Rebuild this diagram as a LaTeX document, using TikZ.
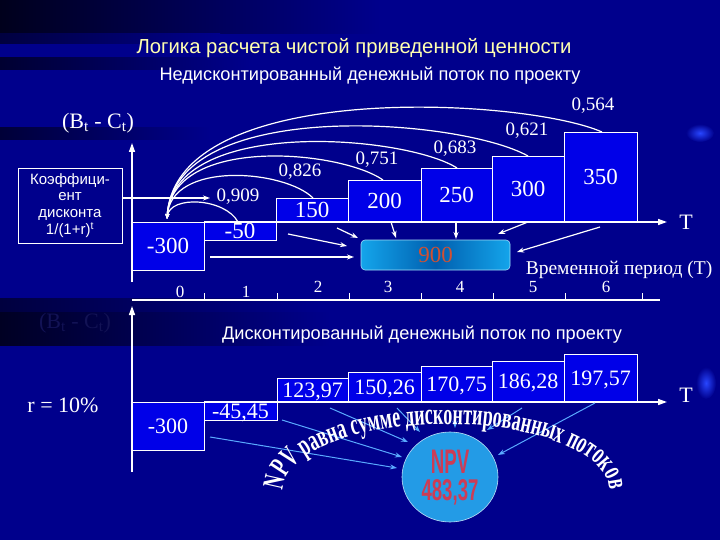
\documentclass[tikz,border=0pt]{standalone}
\usepackage{fontspec}
\usepackage{graphicx}
\setmainfont{Liberation Serif}
\setsansfont{Liberation Sans}
\newfontfamily\archserif{Liberation Serif}[FakeStretch=0.6]
\usetikzlibrary{arrows.meta,decorations.text,shapes.geometric}
\definecolor{bg}{RGB}{0,0,140}
\definecolor{barblue}{RGB}{0,0,232}
\definecolor{titleyellow}{RGB}{255,255,175}
\definecolor{cyanbox}{RGB}{20,165,235}
\definecolor{cyandark}{RGB}{0,95,175}
\definecolor{sumred}{RGB}{210,80,50}
\definecolor{npvblue}{RGB}{35,155,230}
\definecolor{npvred}{RGB}{205,60,85}
\definecolor{lightarrow}{RGB}{90,170,255}
\definecolor{faint}{RGB}{18,18,85}
\definecolor{blobblue}{RGB}{40,70,255}
\newcommand\archfont{\archserif\bfseries\fontsize{30}{30}\selectfont}
\tikzset{
  bar/.style={draw=white, line width=0.8pt, fill=barblue, inner sep=0pt, outer sep=0pt, text=white, text depth=0pt},
  upval/.style={font=\fontsize{23}{23}\selectfont},
  lowval/.style={font=\fontsize{22}{22}\selectfont},
  coef/.style={text=white, font=\fontsize{19}{19}\selectfont, inner sep=0pt},
  axislab/.style={text=white, font=\fontsize{17}{17}\selectfont, inner sep=0pt},
  axisline/.style={white, line width=1.5pt, -{Triangle[length=9pt,width=6pt]}},
  tick/.style={white, line width=0.8pt},
  arcline/.style={white, line width=1.2pt, {Stealth[length=5pt,width=4pt]}-},
  warrow/.style={white, line width=1.2pt, -{Stealth[length=7pt,width=5pt]}},
  carrow/.style={lightarrow, line width=1pt, -{Stealth[length=7pt,width=5pt]}},
  sanstext/.style={font=\sffamily\fontsize{18.2}{18.2}\selectfont, text=white, inner sep=0pt}
}
\begin{document}
\begin{tikzpicture}[x=1pt,y=-1pt]
\useasboundingbox (0,0) rectangle (720,540);
% background
\fill[bg] (0,0) rectangle (720,540);
\shade[left color=black!80!bg, right color=bg] (0,0) rectangle (380,34);
\shade[left color=black!55!bg, right color=bg] (0,34) rectangle (220,44);
\shade[left color=black!65!bg, right color=bg] (0,58) rectangle (250,70);
\shade[left color=black!60!bg, right color=bg] (0,128) rectangle (210,140);
\shade[left color=black!55!bg, right color=bg] (0,298) rectangle (320,312);
\shade[left color=black!75!bg, right color=bg] (0,312) rectangle (330,345);
\shade[inner color=blobblue, outer color=bg] (700,133) ellipse (14 and 9);
\shade[inner color=blobblue, outer color=bg] (706,383) ellipse (10 and 16);

% titles
\node[font=\sffamily\fontsize{20.3}{20.3}\selectfont, text=titleyellow, inner sep=0pt] (title) at (354,48) {Логика расчета чистой приведенной ценности};
\node[sanstext] (sub1) at (370,76) {Недисконтированный денежный поток по проекту};
\node[sanstext] (sub2) at (422,335) {Дисконтированный денежный поток по проекту};

% left labels
\node[text=white, font=\fontsize{22}{22}\selectfont, inner sep=0pt] (bc) at (98,123) {(B\textsubscript{t} - C\textsubscript{t})};
\node[text=faint, font=\fontsize{22}{22}\selectfont, inner sep=0pt] (bc2) at (75,323) {(B\textsubscript{t} - C\textsubscript{t})};
\node[text=white, font=\fontsize{22}{22}\selectfont, inner sep=0pt] (rr) at (63,405) {r = 10\%};
\node[draw=white, line width=0.8pt, text=white, font=\sffamily\fontsize{15}{16.8}\selectfont, align=center, minimum width=104, minimum height=75, inner sep=0pt] (koef) at (70,205.5) {Коэффици-\\ент\\дисконта\\1/(1+r)\textsuperscript{t}};

% upper bars
\node[bar, upval, minimum width=72, minimum height=48] (u0) at (168,246) {-300};
\node[bar, upval, minimum width=72, minimum height=18] (u1) at (240,231) {-50};
\node[bar, upval, minimum width=72, minimum height=24] (u2) at (312,210) {150};
\node[bar, upval, minimum width=73, minimum height=42] (u3) at (384.5,201) {200};
\node[bar, upval, minimum width=71, minimum height=54] (u4) at (456.5,195) {250};
\node[bar, upval, minimum width=72, minimum height=66] (u5) at (528,189) {300};
\node[bar, upval, minimum width=73, minimum height=90] (u6) at (600.5,177) {350};

% upper axes
\coordinate (ya0) at (132,282);
\coordinate (ya1) at (132,143);
\draw[axisline] (ya0) -- (ya1);
\coordinate (ta0) at (204,222);
\coordinate (ta1) at (667,222);
\draw[axisline] (ta0) -- (ta1);
\node[text=white, font=\fontsize{22}{22}\selectfont, inner sep=0pt] (tup) at (686,222) {T};

% discount arcs
\coordinate (s) at (167,219);
\coordinate (e1) at (238,222);
\coordinate (e2) at (313,198);
\coordinate (e3) at (383,180);
\coordinate (e4) at (457,168);
\coordinate (e5) at (528,156);
\coordinate (e6) at (602,132);
\draw[arcline] (s) .. controls (170,195) and (225,198) .. (e1);
\draw[arcline] (s) .. controls (171,160) and (285,170) .. (e2);
\draw[arcline] (s) .. controls (172,135) and (340,150) .. (e3);
\draw[arcline] (s) .. controls (173,116) and (405,135) .. (e4);
\draw[arcline] (s) .. controls (174,96) and (460,118) .. (e5);
\draw[arcline] (s) .. controls (175,78) and (525,98) .. (e6);
\node[coef] (k1) at (238,197) {0,909};
\node[coef] (k2) at (300,172) {0,826};
\node[coef] (k3) at (377,160) {0,751};
\node[coef] (k4) at (455,149) {0,683};
\node[coef] (k5) at (527,131) {0,621};
\node[coef] (k6) at (593,106) {0,564};

% coefficient arrow
\coordinate (kt) at (210,198);
\draw[warrow] (koef.east |- kt) -- (kt);

% sum box
\node[draw=white!60!cyanbox, line width=0.6pt, rounded corners=4pt, left color=cyanbox, right color=cyanbox, middle color=cyandark, minimum width=149, minimum height=30, inner sep=0pt, text=sumred, font=\fontsize{23}{23}\selectfont] (sum) at (435.5,255) {900};
\coordinate (a1s) at (337,228); \coordinate (a1e) at (358,238);
\coordinate (a2s) at (288,234); \coordinate (a2e) at (347,246);
\coordinate (a3s) at (210,257); \coordinate (a3e) at (354,257);
\coordinate (a4s) at (391,222); \coordinate (a4e) at (396,238);
\coordinate (a5s) at (456,222); \coordinate (a5e) at (456,239);
\coordinate (a6s) at (528,222); \coordinate (a6e) at (498,234);
\coordinate (a7s) at (600,227); \coordinate (a7e) at (517,252);
\foreach \i in {1,...,7} {\draw[warrow] (a\i s) -- (a\i e);}
\node[text=white, font=\fontsize{19.5}{19.5}\selectfont, inner sep=0pt] (period) at (619,270) {Временной период (Т)};

% time axis
\coordinate (ba0) at (132,300);
\coordinate (ba1) at (660,300);
\draw[white, line width=1.2pt] (ba0) -- (ba1);
\foreach \x in {204,277,349,421,493,565,642} {\draw[tick] (\x,293) -- (\x,300);}
\node[axislab] (t0) at (180,292) {0};
\node[axislab] (t1) at (246,292) {1};
\node[axislab] (t2) at (318,287) {2};
\node[axislab] (t3) at (388,287) {3};
\node[axislab] (t4) at (460,287) {4};
\node[axislab] (t5) at (533,287) {5};
\node[axislab] (t6) at (606,287) {6};

% lower bars
\node[bar, lowval, minimum width=72, minimum height=48] (l0) at (168,426) {-300};
\node[bar, lowval, minimum width=73, minimum height=18] (l1) at (240.5,411) {-45,45};
\node[bar, lowval, minimum width=71, minimum height=24] (l2) at (312.5,390) {123,97};
\node[bar, lowval, minimum width=73, minimum height=30] (l3) at (384.5,387) {150,26};
\node[bar, lowval, minimum width=71, minimum height=36] (l4) at (456.5,384) {170,75};
\node[bar, lowval, minimum width=72, minimum height=41] (l5) at (528,381.5) {186,28};
\node[bar, lowval, minimum width=73, minimum height=48] (l6) at (600.5,378) {197,57};

% lower axes
\coordinate (ly0) at (132,472);
\coordinate (ly1) at (132,306);
\draw[axisline] (ly0) -- (ly1);
\coordinate (lt0) at (204,402);
\coordinate (lt1) at (667,402);
\draw[axisline] (lt0) -- (lt1);
\node[text=white, font=\fontsize{22}{22}\selectfont, inner sep=0pt] (tlow) at (686,395) {T};

% arrows to NPV
\coordinate (c1s) at (210,437); \coordinate (c1e) at (397,468);
\coordinate (c2s) at (282,420); \coordinate (c2e) at (402,457);
\coordinate (c3s) at (330,408); \coordinate (c3e) at (408,442);
\coordinate (c4s) at (397,408); \coordinate (c4e) at (420,432);
\coordinate (c5s) at (455,412); \coordinate (c5e) at (455,428);
\coordinate (c6s) at (522,408); \coordinate (c6e) at (487,430);
\coordinate (c7s) at (595,403); \coordinate (c7e) at (498,455);
\foreach \i in {1,...,7} {\draw[carrow] (c\i s) -- (c\i e);}

% NPV circle
\node[ellipse, draw=white!70!npvblue, line width=0.6pt, fill=npvblue, minimum width=96, minimum height=90, inner sep=0pt] (npv) at (450,477) {};
\node[text=npvred, font=\sffamily\bfseries\fontsize{34}{34}\selectfont, inner sep=0pt] (npvt) at (450,462) {\scalebox{0.55}[1]{NPV}};
\node[text=npvred, font=\sffamily\bfseries\fontsize{30}{30}\selectfont, inner sep=0pt] (npvv) at (450,492) {\scalebox{0.62}[1]{483,37}};

% arch text
\path[decorate, decoration={text along path, text align=center, text color=white, text={|\archfont|NPV равна сумме дисконтированных потоков}}] (283.6,495.8) arc[start angle=175, end angle=365, x radius=163, y radius=66];
\end{tikzpicture}
\end{document}
